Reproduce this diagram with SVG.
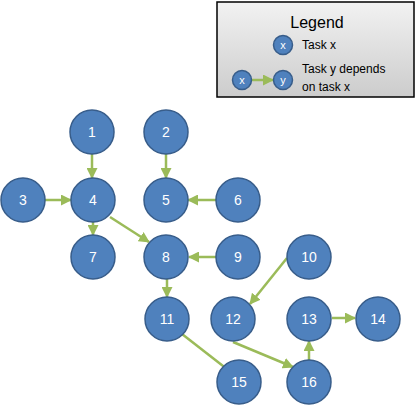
<svg xmlns="http://www.w3.org/2000/svg" width="419" height="405" viewBox="0 0 419 405">
<style>
.n circle{fill:#4F81BD;stroke:#385D8A;stroke-width:1.5}
.n text{fill:#fff;font-family:"Liberation Sans",Arial,sans-serif;font-size:14px;text-anchor:middle;dominant-baseline:central}
.e line{stroke:#9BBB59;stroke-width:2.5;marker-end:url(#ah)}
.lt{font-family:"Liberation Sans",Arial,sans-serif;fill:#000}
</style>
<defs>
<marker id="ah" markerUnits="userSpaceOnUse" markerWidth="11" markerHeight="11" refX="10" refY="5.5" orient="auto">
<path d="M0,0 L11,5.5 L0,11 Z" fill="#9BBB59"/>
</marker>
<linearGradient id="lg" x1="0" y1="0" x2="0" y2="1">
<stop offset="0" stop-color="#f2f2f2"/>
<stop offset="1" stop-color="#cccccc"/>
</linearGradient>
</defs>
<rect width="419" height="405" fill="#fff"/>
<g id="legend">
<rect x="217" y="2" width="197" height="95" fill="url(#lg)" stroke="#000" stroke-width="1.5"/>
<text class="lt" x="317" y="28" font-size="16" text-anchor="middle">Legend</text>
<g class="n"><circle cx="283" cy="45" r="9.5"/><text x="283" y="45" style="font-size:11px">x</text></g>
<text class="lt" x="302" y="49" font-size="12">Task x</text>
<line x1="251" y1="80" x2="273" y2="80" stroke="#9BBB59" stroke-width="2.5" marker-end="url(#ah)"/>
<g class="n"><circle cx="242" cy="80" r="9.5"/><text x="242" y="80" style="font-size:11px">x</text></g>
<g class="n"><circle cx="283" cy="80" r="9.5"/><text x="283" y="80" style="font-size:11px">y</text></g>
<text class="lt" x="302" y="73" font-size="12">Task y depends</text>
<text class="lt" x="302" y="91" font-size="12">on task x</text>
</g>
<g id="connectors" class="e">
<line x1="92" y1="154" x2="92" y2="178"/>
<line x1="166" y1="154" x2="166" y2="178"/>
<line x1="45" y1="200" x2="71" y2="200"/>
<line x1="216" y1="200" x2="188" y2="200"/>
<line x1="93" y1="222" x2="93" y2="235"/>
<line x1="110" y1="217" x2="149" y2="242"/>
<line x1="216" y1="257" x2="189" y2="257"/>
<line x1="167" y1="279" x2="167" y2="297"/>
<line x1="287" y1="258" x2="250" y2="304"/>
<line x1="182" y1="334" x2="232" y2="373"/>
<line x1="233" y1="342" x2="293" y2="367"/>
<line x1="309" y1="361" x2="309" y2="341"/>
<line x1="332" y1="318" x2="355" y2="318"/>
</g>
<g id="n1" class="n"><circle cx="92" cy="132" r="22"/><text x="92" y="132">1</text></g>
<g id="n2" class="n"><circle cx="166" cy="132" r="22"/><text x="166" y="132">2</text></g>
<g id="n3" class="n"><circle cx="23" cy="200" r="22"/><text x="23" y="200">3</text></g>
<g id="n4" class="n"><circle cx="93" cy="200" r="22"/><text x="93" y="200">4</text></g>
<g id="n5" class="n"><circle cx="166" cy="200" r="22"/><text x="166" y="200">5</text></g>
<g id="n6" class="n"><circle cx="238" cy="200" r="22"/><text x="238" y="200">6</text></g>
<g id="n7" class="n"><circle cx="93" cy="257" r="22"/><text x="93" y="257">7</text></g>
<g id="n8" class="n"><circle cx="166" cy="257" r="22"/><text x="166" y="257">8</text></g>
<g id="n9" class="n"><circle cx="238" cy="257" r="22"/><text x="238" y="257">9</text></g>
<g id="n10" class="n"><circle cx="309" cy="257" r="22"/><text x="309" y="257">10</text></g>
<g id="n11" class="n"><circle cx="167" cy="319" r="22"/><text x="167" y="319">11</text></g>
<g id="n12" class="n"><circle cx="233" cy="319" r="22"/><text x="233" y="319">12</text></g>
<g id="n13" class="n"><circle cx="309" cy="319" r="22"/><text x="309" y="319">13</text></g>
<g id="n14" class="n"><circle cx="378" cy="319" r="22"/><text x="378" y="319">14</text></g>
<g id="n15" class="n"><circle cx="239" cy="382" r="22"/><text x="239" y="382">15</text></g>
<g id="n16" class="n"><circle cx="309" cy="382" r="22"/><text x="309" y="382">16</text></g>
</svg>
